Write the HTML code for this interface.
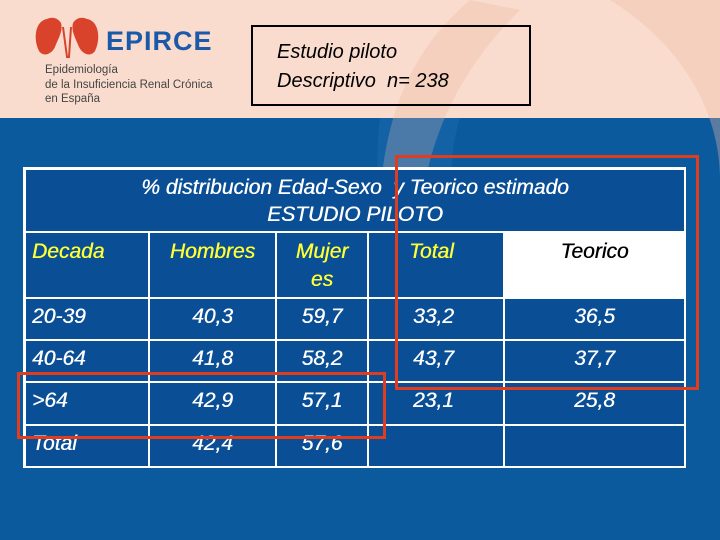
<!DOCTYPE html>
<html><head><meta charset="utf-8"><style>
body{margin:0;width:720px;height:540px;overflow:hidden;position:relative;font-family:"Liberation Sans",sans-serif;background:#0b5a9e}
.a{position:absolute}
.c{position:absolute;background:#0a4f96;color:#fff;font-style:italic;font-size:21px;box-sizing:border-box;text-shadow:0.4px 0 0 currentColor}
.h{color:#ffff33}
</style></head><body>
<div class="a" style="left:0;top:0;width:720px;height:118px;background:#f9dccd"></div>
<svg class="a" style="left:0;top:0" width="720" height="540">
<path d="M470 0 C400 60 370 140 380 300 L420 300 C410 180 440 90 520 10 Z" fill="#f2b9a5" opacity="0.35"/>
<path d="M610 0 C690 50 720 120 720 180 L720 0 Z" fill="#f2b9a5" opacity="0.35"/>
<path d="M380 118 C370 200 390 260 430 300 L500 300 C460 240 440 180 460 118 Z" fill="#2a78b8" opacity="0.3"/>
</svg>
<svg class="a" style="left:33px;top:17px" width="70" height="42">
<path d="M14 2 C2 4 0 22 6 34 C10 40 18 38 22 30 C26 20 30 14 28 6 C24 0 18 0 14 2Z" fill="#d9432c"/>
<path d="M54 2 C66 4 68 22 62 34 C58 40 50 38 46 30 C42 20 38 14 40 6 C44 0 50 0 54 2Z" fill="#d9432c"/>
<path d="M30 10 L34 40 L36 40 L38 10" stroke="#d9432c" stroke-width="2" fill="none"/>
</svg>
<div class="a" style="left:106px;top:26px;font-size:27px;font-weight:bold;color:#1b5aa8;letter-spacing:1px">EPIRCE</div>
<div class="a" style="left:45px;top:63px;font-size:11.5px;line-height:14.5px;color:#444">Epidemiología<br>de la Insuficiencia Renal Crónica<br>en España</div>
<div class="a" style="left:251px;top:25px;width:252px;height:66px;border:2px solid #000;font-style:italic;font-size:20px;line-height:29px;color:#000;padding:11px 0 0 24px">Estudio piloto<br>Descriptivo&nbsp; n= 238</div>
<div class="a" style="left:23px;top:167px;width:663px;height:301px;background:#fff"></div>
<div class="c" style="left:26px;top:170px;width:658px;height:61px;text-align:center;line-height:27px;padding-top:4px">% distribucion Edad-Sexo&nbsp; y Teorico estimado<br>ESTUDIO PILOTO</div>
<div id="t"></div>
<div class="a" style="left:395px;top:155px;width:298px;height:229px;border:3px solid #e23c1e"></div>
<div class="a" style="left:17px;top:372px;width:363px;height:61px;border:3px solid #e23c1e"></div>
<script>
const headers=["Decada","Hombres","Mujer es","Total","Teorico"];
const decadas=["20-39","40-64",">64","Total"];
const hombres=["40,3","41,8","42,9","42,4"];
const mujeres=["59,7","58,2","57,1","57,6"];
const total=["33,2","43,7","23,1",""];
const teorico=["36,5","37,7","25,8",""];
const xs=[26,150,277,369,505,684];
const ys=[233,299,341,383,426,466];
const t=document.getElementById('t');
function cell(x0,x1,y0,y1,txt,cls,align,name){
 const d=document.createElement('div');
 d.className='c '+cls;
 
 
 d.style.left=x0+'px';d.style.top=y0+'px';d.style.width=(x1-x0-2)+'px';d.style.height=(y1-y0-2)+'px';
 d.style.textAlign=align;d.style.paddingLeft=align=='left'?'6px':'0';d.style.lineHeight='28px';d.style.paddingTop='5px';
 d.innerHTML=txt;t.appendChild(d);return d;
}
headers.forEach((h,i)=>{
 let txt=h=="Mujer es"?"Mujer<br>es":h;
 const d=cell(xs[i],xs[i+1]+(i==4?2:0),ys[0],ys[1],txt,i==4?'':'h',i==0?'left':(i==3?'left':'center'),'header-'+h.replace(' ','').toLowerCase());
 if(i==3)d.style.paddingLeft='40px';
 if(i==4){d.style.background='#fff';d.style.color='#000';}
});
const cols=[decadas,hombres,mujeres,total,teorico];
for(let r=0;r<4;r++)for(let c=0;c<5;c++){
 const d=cell(xs[c],xs[c+1]+(c==4?2:0),ys[r+1],ys[r+2]+(r==3?2:0),cols[c][r],'',c==0||c==3?'left':'center','cell-r'+r+'-c'+c);
 if(c==3)d.style.paddingLeft='44px';
 d.style.paddingTop='4px';
}
</script>
</body></html>
